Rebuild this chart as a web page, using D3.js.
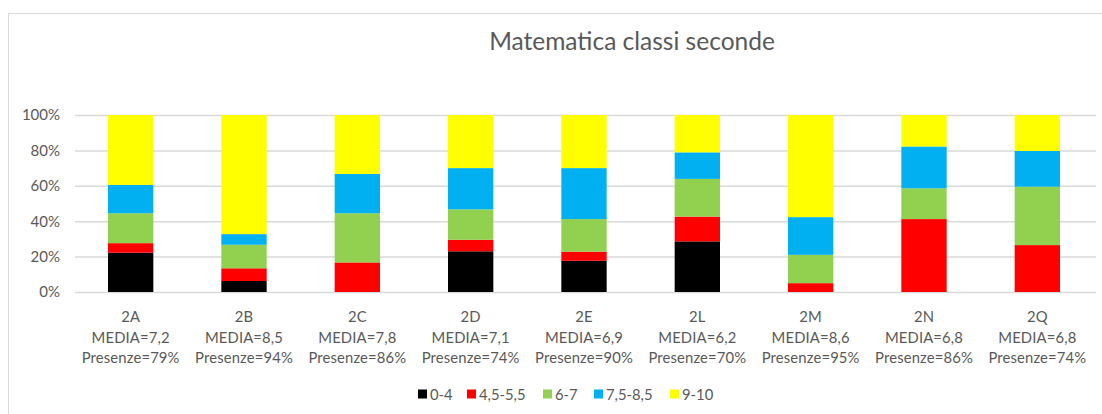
<!DOCTYPE html>
<html>
<head>
<meta charset="utf-8">
<script src="https://cdn.jsdelivr.net/npm/d3@7"></script>
<style>
  html, body { margin: 0; padding: 0; background: #fff; }
  svg { display: block; font-family: Lato, "Open Sans", sans-serif; }
</style>
</head>
<body>
<svg id="chart" width="1102" height="414"></svg>
<script>
const title = "Matematica classi seconde";
const categories = ["2A", "2B", "2C", "2D", "2E", "2L", "2M", "2N", "2Q"];
const media = ["7,2", "8,5", "7,8", "7,1", "6,9", "6,2", "8,6", "6,8", "6,8"];
const presenze = ["79%", "94%", "86%", "74%", "90%", "70%", "95%", "86%", "74%"];
const seriesNames = ["0-4", "4,5-5,5", "6-7", "7,5-8,5", "9-10"];
const s0_4 =   [22.2, 6.2, 0,    23.0, 17.6, 28.6, 0,    0,    0];
const s45_55 = [5.4,  7.2, 16.7, 6.5,  5.2,  14.0, 5.0,  41.2, 26.5];
const s6_7 =   [16.9, 13.3, 27.8, 17.2, 18.4, 21.3, 16.0, 17.4, 33.0];
const s75_85 = [16.0, 6.0, 22.2, 23.3, 28.8, 15.0, 21.3, 23.6, 20.2];
const s9_10 =  [39.5, 67.3, 33.3, 30.0, 30.0, 21.1, 57.7, 17.8, 20.3];
const yTicks = [0, 20, 40, 60, 80, 100];
const colors = ["#000000", "#FF0000", "#92D050", "#00B0F0", "#FFFF00"];

const seriesValues = [s0_4, s45_55, s6_7, s75_85, s9_10];
const rows = categories.map((c, i) => {
  const r = { cat: c };
  seriesNames.forEach((s, j) => r[s] = seriesValues[j][i]);
  return r;
});

const svg = d3.select("#chart");
const textColor = "#595959";
const gridColor = "#d9d9d9";

// chart border
svg.append("rect")
  .attr("x", 8.5).attr("y", 13.5)
  .attr("width", 1110).attr("height", 420)
  .attr("fill", "#fff").attr("stroke", gridColor).attr("stroke-width", 1);

const x = d3.scaleBand().domain(categories).range([74, 1094])
  .paddingInner(0.6).paddingOuter(0.3);
const y = d3.scaleLinear().domain([0, 100]).range([292, 115]);

// grid + y labels
const yAxis = d3.axisLeft(y).tickValues(yTicks).tickFormat(d => d + "%")
  .tickSize(-(1096 - 75)).tickPadding(15);
const gy = svg.append("g").attr("transform", "translate(75,0)").call(yAxis);
gy.select(".domain").remove();
gy.selectAll(".tick line").attr("stroke", gridColor).attr("stroke-width", 1.5);
gy.selectAll(".tick text").attr("fill", textColor).attr("font-size", 15)
  .attr("font-family", "Lato, sans-serif");

// stacked bars
const stack = d3.stack().keys(seriesNames);
const stacked = stack(rows);
svg.append("g").selectAll("g").data(stacked).join("g")
  .attr("fill", (d, i) => colors[i])
  .selectAll("rect").data(d => d).join("rect")
  .attr("x", d => x(d.data.cat))
  .attr("width", x.bandwidth())
  .attr("y", d => y(d[1]))
  .attr("height", d => Math.max(0, y(d[0]) - y(d[1])));

// x labels
const gx = svg.append("g");
categories.forEach((c, i) => {
  const cx = x(c) + x.bandwidth() / 2;
  const t = gx.append("text")
    .attr("x", cx)
    .attr("text-anchor", "middle")
    .attr("fill", textColor)
    .attr("font-size", 14.8)
    .attr("letter-spacing", 0.15);
  t.append("tspan").attr("x", cx).attr("y", 322).text(c);
  t.append("tspan").attr("x", cx).attr("y", 342.5).text("MEDIA=" + media[i]);
  t.append("tspan").attr("x", cx).attr("y", 363).text("Presenze=" + presenze[i]);
});

// title
svg.append("text").attr("x", 632).attr("y", 50)
  .attr("text-anchor", "middle").attr("fill", textColor)
  .attr("font-size", 24.5).text(title);

// legend
const legendX = [418, 467, 543, 594, 670];
const lg = svg.append("g");
seriesNames.forEach((s, i) => {
  lg.append("rect").attr("x", legendX[i]).attr("y", 389.5)
    .attr("width", 9).attr("height", 9).attr("fill", colors[i]);
  lg.append("text").attr("x", legendX[i] + 12).attr("y", 399.5)
    .attr("fill", textColor).attr("font-size", 14.8).text(s);
});
</script>
</body>
</html>
